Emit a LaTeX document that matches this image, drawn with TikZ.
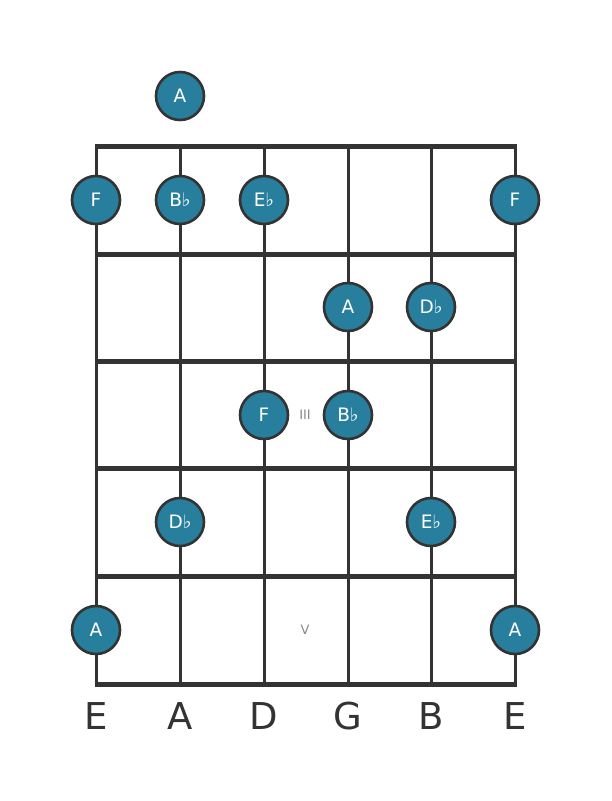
\documentclass[tikz,border=0pt]{standalone}
\usepackage{fontspec}
\setmainfont{DejaVu Sans}
\definecolor{notefill}{RGB}{40,127,157}
\definecolor{lineclr}{RGB}{51,51,51}
\definecolor{markclr}{RGB}{136,136,136}
\tikzset{
  note/.style={circle,draw=lineclr,line width=2.6pt,fill=notefill,minimum size=48pt,inner sep=0pt,text=white,font=\fontsize{18.5}{18.5}\selectfont},
  fretline/.style={draw=lineclr,line width=5pt},
  stringline/.style={draw=lineclr,line width=3pt},
  strlabel/.style={text=lineclr,font=\fontsize{37}{37}\selectfont,inner sep=0pt},
  fretmark/.style={text=markclr,font=\fontsize{13}{13}\selectfont,inner sep=0pt}
}
\begin{document}
\begin{tikzpicture}[x=1pt,y=-1pt]
\useasboundingbox (0,0) rectangle (611,801);
% coordinates
\foreach \i/\x in {1/96,2/180,3/264,4/348,5/431,6/515}{
  \coordinate (st\i) at (\x,146);
  \coordinate (sb\i) at (\x,684);
}
\foreach \j/\y in {0/146,1/254,2/361,3/468,4/576,5/684}{
  \coordinate (fl\j) at (94.5,\y);
  \coordinate (fr\j) at (516.5,\y);
}
\foreach \i in {1,...,6}{ \draw[stringline] (st\i) -- (sb\i); }
\foreach \j in {0,...,5}{ \draw[fretline] (fl\j) -- (fr\j); }
% fret markers
\node[fretmark] (m3) at (305,415) {III};
\node[fretmark] (m5) at (305,630) {V};
% notes
\node[note] (n0a) at (180,96) {A};
\node[note] (n1a) at (96,200) {F};
\node[note] (n1b) at (180,200) {B♭};
\node[note] (n1c) at (264,200) {E♭};
\node[note] (n1d) at (515,200) {F};
\node[note] (n2a) at (348,307) {A};
\node[note] (n2b) at (431,307) {D♭};
\node[note] (n3a) at (264,415) {F};
\node[note] (n3b) at (348,415) {B♭};
\node[note] (n4a) at (180,522) {D♭};
\node[note] (n4b) at (431,522) {E♭};
\node[note] (n5a) at (96,630) {A};
\node[note] (n5b) at (515,630) {A};
% string labels
\node[strlabel] (l1) at (96,716) {E};
\node[strlabel] (l2) at (180,716) {A};
\node[strlabel] (l3) at (264,716) {D};
\node[strlabel] (l4) at (348,716) {G};
\node[strlabel] (l5) at (431,716) {B};
\node[strlabel] (l6) at (515,716) {E};
\end{tikzpicture}
\end{document}
